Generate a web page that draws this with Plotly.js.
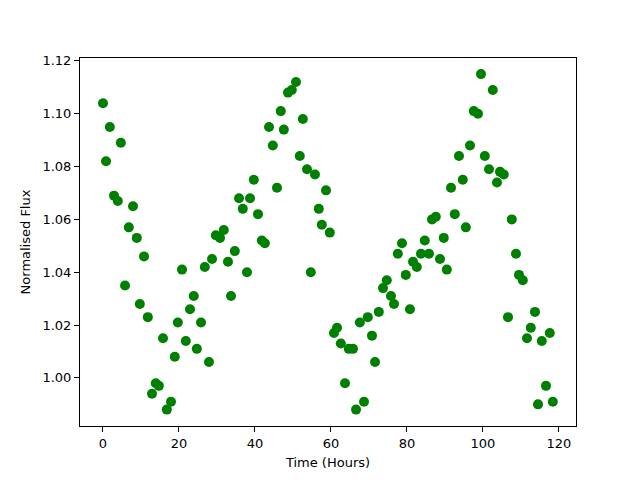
<!DOCTYPE html>
<html>
<head>
<meta charset="utf-8">
<script src="https://cdn.plot.ly/plotly-3.0.1.min.js"></script>
<style>html,body{margin:0;padding:0;background:#fff;}#chart{width:640px;height:480px;}</style>
</head>
<body>
<div id="chart"></div>
<script>
var timeHours = [0.0,0.8,1.8,2.9,3.9,4.7,5.8,6.8,7.9,8.9,9.7,10.8,11.8,12.9,13.9,14.7,15.8,16.8,17.9,18.9,
19.7,20.8,21.8,22.9,23.9,24.7,25.8,26.8,27.9,28.7,29.7,30.8,31.8,32.9,33.7,34.7,35.8,36.8,37.9,38.7,
39.7,40.8,41.8,42.6,43.7,44.7,45.8,46.8,47.6,48.7,49.7,50.8,51.8,52.6,53.7,54.7,55.8,56.8,57.6,58.7,
59.7,60.8,61.6,62.6,63.7,64.7,65.8,66.6,67.6,68.7,69.7,70.8,71.6,72.6,73.7,74.7,75.8,76.6,77.6,78.7,
79.7,80.8,81.6,82.6,83.7,84.7,85.8,86.6,87.6,88.7,89.7,90.5,91.6,92.6,93.7,94.7,95.5,96.6,97.6,98.7,
99.5,100.5,101.6,102.6,103.7,104.5,105.5,106.6,107.6,108.7,109.5,110.5,111.6,112.6,113.7,114.5,115.5,116.6,117.6,118.4];
var normalisedFlux = [1.104,1.082,1.095,1.069,1.067,1.089,1.035,1.057,1.065,1.053,1.028,1.046,1.023,0.994,0.998,0.997,1.015,0.988,0.991,1.008,
1.021,1.041,1.014,1.026,1.031,1.011,1.021,1.042,1.006,1.045,1.054,1.053,1.056,1.044,1.031,1.048,1.068,1.064,1.040,1.068,
1.075,1.062,1.052,1.051,1.095,1.088,1.072,1.101,1.094,1.108,1.109,1.112,1.084,1.098,1.079,1.040,1.077,1.064,1.058,1.071,
1.055,1.017,1.019,1.013,0.998,1.011,1.011,0.988,1.021,0.991,1.023,1.016,1.006,1.025,1.034,1.037,1.031,1.028,1.047,1.051,
1.039,1.026,1.044,1.042,1.047,1.052,1.047,1.060,1.061,1.045,1.053,1.041,1.072,1.062,1.084,1.075,1.057,1.088,1.101,1.100,
1.115,1.084,1.079,1.109,1.074,1.078,1.077,1.023,1.060,1.047,1.039,1.037,1.015,1.019,1.025,0.990,1.014,0.997,1.017,0.991];
var xTicks = [0,20,40,60,80,100,120];
var yTicks = [1.00,1.02,1.04,1.06,1.08,1.10,1.12];

var trace = {
  x: timeHours, y: normalisedFlux, type: 'scatter', mode: 'markers',
  marker: {color: '#008000', size: 10, line: {width: 0}},
  hoverinfo: 'none'
};
var fontFam = 'DejaVu Sans, sans-serif';
var layout = {
  width: 640, height: 480,
  margin: {l: 80, r: 64, t: 58, b: 54, pad: 0},
  paper_bgcolor: '#fff', plot_bgcolor: '#fff',
  showlegend: false,
  font: {family: fontFam, size: 13, color: '#000'},
  xaxis: {
    range: [-6.05, 124.5], tickvals: xTicks, ticktext: xTicks.map(String),
    showgrid: false, zeroline: false, showline: true, mirror: true, linecolor: '#000', linewidth: 1,
    ticks: 'outside', ticklen: 5, tickwidth: 1, tickcolor: '#000',
    tickfont: {family: fontFam, size: 13, color: '#000'},
    title: {text: 'Time (Hours)', font: {family: fontFam, size: 13, color: '#000'}, standoff: 8}
  },
  yaxis: {
    range: [0.9818, 1.1211], tickvals: yTicks, ticktext: yTicks.map(function(v){return v.toFixed(2);}),
    showgrid: false, zeroline: false, showline: true, mirror: true, linecolor: '#000', linewidth: 1,
    ticks: 'outside', ticklen: 5, tickwidth: 1, tickcolor: '#000',
    tickfont: {family: fontFam, size: 13, color: '#000'},
    title: {text: 'Normalised Flux', font: {family: fontFam, size: 13, color: '#000'}, standoff: 8}
  }
};
Plotly.newPlot('chart', [trace], layout, {staticPlot: true, displayModeBar: false});
</script>
</body>
</html>
